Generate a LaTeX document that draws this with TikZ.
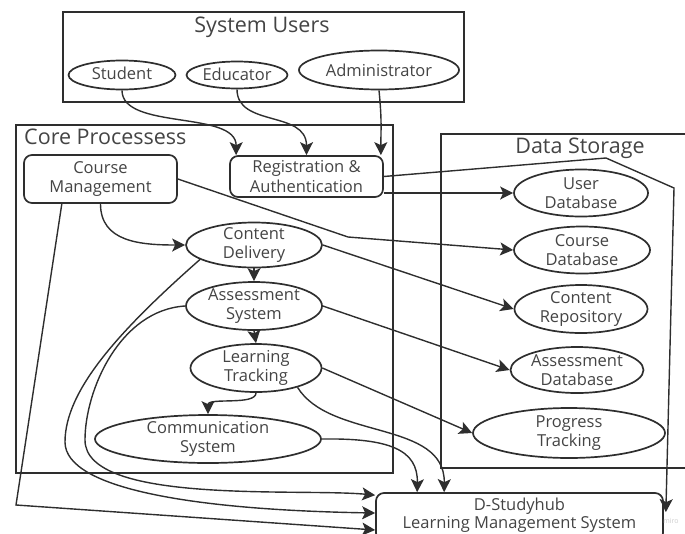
\documentclass[tikz,border=0pt]{standalone}
\usepackage{fontspec}
\setmainfont{Open Sans}
\usetikzlibrary{arrows.meta,shapes.geometric,calc}
\definecolor{ink}{HTML}{2E2E2E}
\definecolor{txt}{HTML}{444444}
\begin{document}
\begin{tikzpicture}[x=1pt,y=-1pt,
  grp/.style={draw=ink,line width=1.8pt,inner sep=0pt},
  ttl/.style={font=\fontsize{21.5}{25}\selectfont,text=txt,inner sep=0pt},
  lbl/.style={font=\fontsize{16.5}{19.5}\selectfont,text=txt,align=center,inner sep=0pt},
  ell/.style 2 args={ellipse,draw=ink,line width=1.7pt,minimum width=#1,minimum height=#2,inner sep=0pt},
  rbox/.style 2 args={draw=ink,line width=1.7pt,rounded corners=8pt,minimum width=#1,minimum height=#2,inner sep=0pt,lbl},
  conn/.style={draw=ink,line width=1.4pt,-{Stealth[length=13pt,width=13pt,inset=3pt]}}
]
\useasboundingbox (0,0) rectangle (685,533);
\clip (0,0) rectangle (685,533);

% group frames and their titles
\node[grp,minimum width=401pt,minimum height=90pt] (users) at (263.5,57) {};
\node[ttl,anchor=base] (usersT) at (262,32) {System Users};
\node[grp,minimum width=377pt,minimum height=348pt] (core) at (204.5,299) {};
\node[ttl,anchor=base west] (coreT) at (24,144) {Core Processess};
\node[grp,minimum width=264pt,minimum height=334pt] (store) at (573,301) {};
\node[ttl,anchor=base] (storeT) at (580,153) {Data Storage};

% users
\node[ell={107pt}{29pt},label={[lbl,yshift=2pt]center:Student}] (stu) at (122,75) {};
\node[ell={101pt}{27pt},label={[lbl,yshift=1pt]center:Educator}] (edu) at (237,75) {};
\node[ell={160pt}{39pt},label={[lbl]center:Administrator}] (adm) at (379,70) {};

% core processes
\node[rbox={153pt}{48pt}] (cm) at (100.5,179) {Course\\Management};
\node[rbox={153pt}{41pt}] (reg) at (306.5,176.5) {Registration \&\\Authentication};
\node[ell={136pt}{45pt},label={[lbl]center:Content\\Delivery}] (cd) at (254,245) {};
\node[ell={136pt}{48pt},label={[lbl]center:Assessment\\System}] (as) at (254,306) {};
\node[ell={131pt}{48pt},label={[lbl]center:Learning\\Tracking}] (lt) at (256,368) {};
\node[ell={226pt}{48pt},label={[lbl]center:Communication\\System}] (comm) at (208,439) {};

% data storage
\node[ell={134pt}{47pt},label={[lbl]center:User\\Database}] (udb) at (581,193) {};
\node[ell={136pt}{47pt},label={[lbl]center:Course\\Database}] (cdb) at (582,250) {};
\node[ell={133pt}{48pt},label={[lbl]center:Content\\Repository}] (repo) at (581,309) {};
\node[ell={133pt}{46pt},label={[lbl]center:Assessment\\Database}] (adb) at (577,370) {};
\node[ell={192pt}{50pt},label={[lbl]center:Progress\\Tracking}] (pt) at (569,433) {};

% platform
\node[rbox={287pt}{48pt},
      label={[lbl,font=\fontsize{16.5}{18}\selectfont,yshift=2pt]center:D-Studyhub\\Learning Management System}] (lms) at (519.5,517) {};
\node[font=\fontsize{7}{8}\selectfont,text=black!20,inner sep=0pt] (wm) at (671,521) {miro};

% users to registration
\draw[conn] (stu.south) .. controls +(0,40) and +(0,-45) .. ($(reg.north west)+(7,0)$);
\draw[conn] (edu.south) .. controls +(0,38) and +(0,-45) .. (reg.north);
\draw[conn] (adm.south) .. controls +(3,30) and +(0,-25) .. ($(reg.north east)+(-3,0)$);

% registration outputs
\draw[conn] (reg.east |- udb.west) -- (udb.west);
\draw[conn] (reg.east) -- (606,158) -- (674,188) -- ($(lms.north east)+(2,20)$);

% course management outputs
\draw[conn] (cm.east) -- (348,237) -- (cdb.west);
\draw[conn] (cm.south) .. controls +(0,38) and +(-45,0) .. (cd.west);
\draw[conn] ($(cm.south west)!0.25!(cm.south east)$) -- (16,505) -- ($(lms.west)+(0,13)$);

% content flow
\draw[conn] (cd.195) .. controls (120,330) and (65,390) .. (65,442)
            .. controls (65,490) and (200,510) .. ($(lms.west)+(0,-4)$);
\draw[conn] (as.west) .. controls (120,310) and (85,390) .. (85,440)
            .. controls (85,505) and (300,488) .. ($(lms.north west)+(0,3)$);
\draw[conn] (cd.east) -- (repo.west);
\draw[conn] (cd.south) -- (as.north);
\draw[conn] (as.south) -- (lt.north);
\draw[conn] (as.east) -- (adb.west);
\draw[conn] (lt.east) -- (pt.west);
\draw[conn] (lt.south) .. controls +(0,13) and +(0,-17) .. (comm.north);
\draw[conn] (lt.-25) .. controls (330,440) and (445,420) .. ($(lms.north west)+(69,0)$);
\draw[conn] (comm.east) .. controls (390,438) and (418,450) .. ($(lms.north west)+(42,0)$);
\end{tikzpicture}
\end{document}
